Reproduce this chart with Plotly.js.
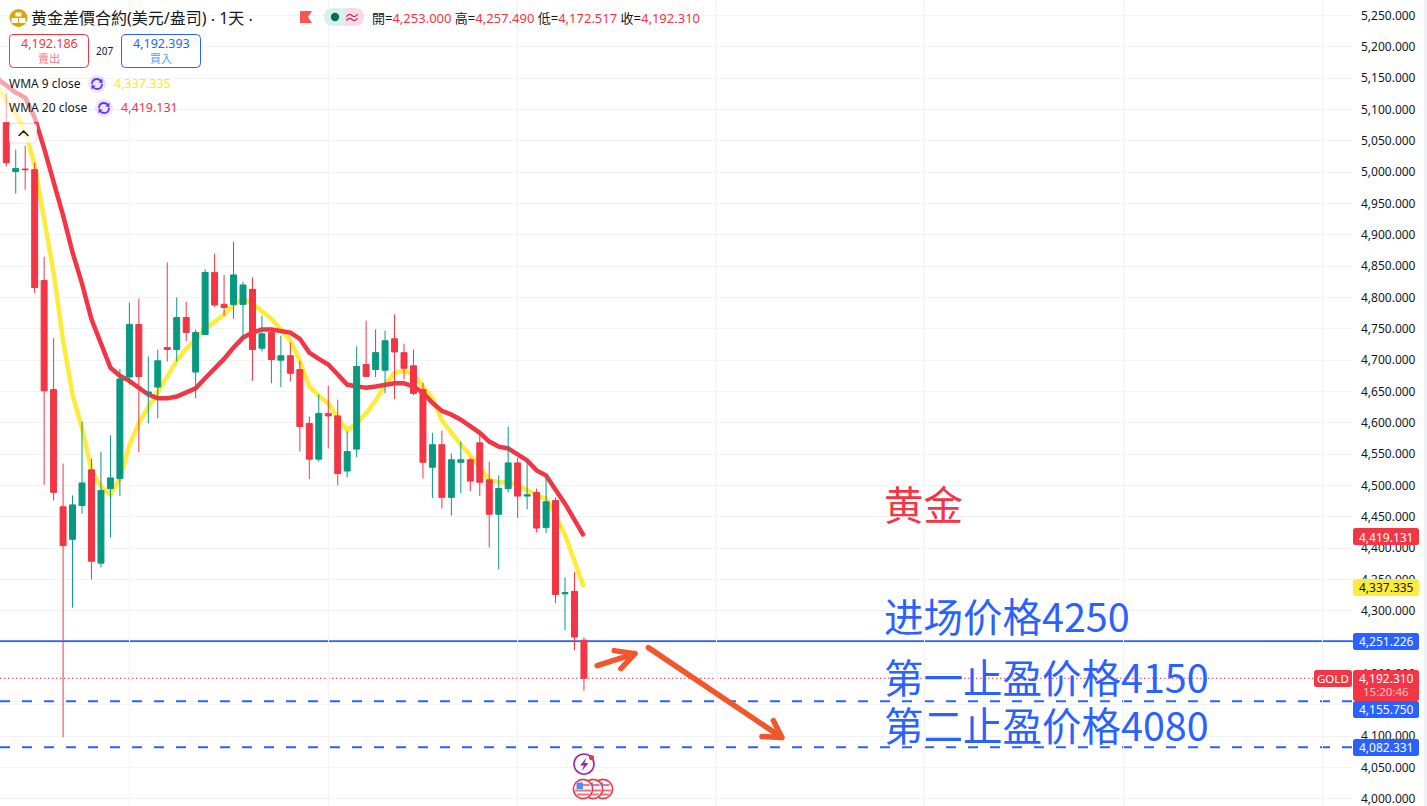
<!DOCTYPE html>
<html>
<head>
<meta charset="utf-8">
<script src="https://cdn.plot.ly/plotly-3.0.1.min.js"></script>
<style>
html,body{margin:0;padding:0;width:1427px;height:806px;overflow:hidden;background:#eef0f3;}
#chart{width:1424px;height:806px;background:#fff;}
</style>
</head>
<body>
<div id="chart"></div>
<script>
const opens=[5079,5001,5005,5004,4827,4653,4466,4414,4468,4525,4376,4495,4511,4673,4757,4647,4657,4720,4717,4768,4681,4741,4840,4789,4789,4789,4813,4719,4744,4700,4707,4685,4599,4542,4615,4611,4523,4558,4693,4685,4684,4734,4712,4691,4653,4529,4565,4481,4537,4541,4568,4509,4454,4495,4536,4483,4489,4433,4476,4327,4331,4253.000];
const highs=[5127,5036,5042,5015,4865,4735,4535,4484,4602,4543,4554,4580,4686,4792,4798,4706,4717,4856,4800,4793,4749,4845,4870,4836,4889,4825,4832,4771,4752,4739,4728,4699,4610,4645,4659,4637,4586,4722,4763,4749,4747,4773,4726,4717,4664,4584,4588,4551,4570,4544,4580,4538,4516,4594,4544,4540,4495,4514,4481,4353,4362,4257.490];
const lows=[5009,4966,4972,4807,4501,4476,4098,4305,4455,4350,4369,4417,4483,4661,4553,4599,4607,4698,4698,4730,4639,4741,4785,4771,4766,4736,4667,4714,4663,4657,4666,4554,4510,4538,4559,4500,4513,4545,4673,4673,4647,4638,4669,4644,4511,4480,4463,4452,4488,4491,4483,4401,4366,4489,4448,4462,4425,4424,4312,4269,4237,4172.517];
const closes=[5015,5006,5004,4816,4651,4489,4404,4469,4504,4379,4492,4512,4670,4757,4674,4649,4699,4717,4768,4744,4744,4840,4788,4784,4836,4820,4717,4742,4701,4707,4679,4594,4542,4615,4611,4519,4554,4690,4674,4712,4731,4713,4687,4647,4537,4565,4481,4541,4541,4507,4505,4454,4495,4536,4483,4485,4432,4474,4326,4329,4258,4192.310];
// the indicator lines start one session before the first visible candle
const wma9=[5138,5114,5094,5066,5011,4926,4840,4731,4645,4592,4524,4498,4485,4511,4564,4600,4624,4647,4674,4699,4718,4733,4750,4761,4773,4789,4798,4790,4779,4766,4749,4731,4699,4658,4643,4631,4608,4588,4599,4615,4635,4661,4680,4683,4677,4659,4639,4604,4583,4565,4548,4529,4509,4505,4505,4501,4493,4484,4479,4452,4421,4380,4337.335];
const wma20=[5150,5138,5127,5119,5087,5038,4987,4931,4872,4822,4765,4728,4688,4675,4667,4656,4645,4639,4639,4642,4648,4655,4671,4686,4702,4720,4736,4744,4749,4749,4747,4744,4734,4712,4702,4693,4677,4661,4658,4656,4658,4661,4663,4663,4658,4648,4632,4619,4613,4605,4594,4584,4570,4562,4559,4549,4540,4524,4516,4493,4471,4445,4419.131];
const candleIndex=opens.map((_,i)=>i);
const lineIndex=wma9.map((_,i)=>i-1);
const verticalGridCandles=[13,34,54,75,97,118,139];
const entryLevel=4251.226, target1Level=4155.750, target2Level=4082.331, lastLevel=4192.310;
const priceRange=[3988.4,5274.8];
const candleRange=[-0.66,142.1];

const RED='#f23645',GREEN='#089981',BLUE='#2962ff',YELLOW='#ffeb3b',INK='#131722',ORANGE='#f2572b';
const FONT='"Noto Sans","Noto Sans CJK TC",sans-serif';
const W=1352,H=806;
const px=x=>x/W, py=y=>1-y/H;
const P=(x,y)=>px(x)+','+py(y);

const shapes=[];
function pathShape(d,opt){shapes.push(Object.assign({type:'path',xref:'paper',yref:'paper',path:d,line:{width:0}},opt));}
function rrect(x0,y0,x1,y1,r,fill,stroke,lw,opacity){
  const d='M'+P(x0+r,y0)+' L'+P(x1-r,y0)+' Q'+P(x1,y0)+' '+P(x1,y0+r)+' L'+P(x1,y1-r)+' Q'+P(x1,y1)+' '+P(x1-r,y1)+' L'+P(x0+r,y1)+' Q'+P(x0,y1)+' '+P(x0,y1-r)+' L'+P(x0,y0+r)+' Q'+P(x0,y0)+' '+P(x0+r,y0)+' Z';
  pathShape(d,{fillcolor:fill,line:{color:stroke||fill,width:stroke?(lw||1):0},opacity:opacity==null?1:opacity});
}
function circ(cx,cy,r,fill,stroke,lw){
  shapes.push({type:'circle',xref:'paper',yref:'paper',x0:px(cx-r),x1:px(cx+r),y0:py(cy+r),y1:py(cy-r),fillcolor:fill,line:{color:stroke||fill,width:stroke?(lw||1):0}});
}
function hline(level,dash,color,width){
  shapes.push({type:'line',layer:'below',xref:'paper',yref:'y',x0:0,x1:1,y0:level,y1:level,line:{color:color,width:width,dash:dash}});
}
hline(entryLevel,'solid',BLUE,2.2);
hline(target1Level,'10px,12px',BLUE,2);
hline(target2Level,'10px,12px',BLUE,2);
hline(lastLevel,'1.5px,2.5px',RED,1.2);

// hand-drawn arrows
shapes.push({type:'path',xref:'x',yref:'y',path:'M62.4,4212.5 L66.4,4231.6 M64.2,4236.4 L66.4,4231.6 L64.9,4207.7',line:{color:ORANGE,width:5.5}});
shapes.push({type:'path',xref:'x',yref:'y',path:'M67.8,4241.2 L81.9,4097.6 M79.8,4099.2 L81.9,4097.6 L81.0,4124.7',line:{color:ORANGE,width:5.5}});

// veil of the legend over the lines
rrect(0,76,40,122,0,'rgba(255,255,255,0.55)');
rrect(9.5,123.5,36.5,143,3,'rgba(255,255,255,0.75)','#e0e3eb',1);
pathShape('M'+P(19,135.5)+' L'+P(23.5,131)+' L'+P(28,135.5),{line:{color:INK,width:1.5}});

// gold icon
circ(18.5,18,9,'#dca406');
rrect(15.5,12.5,21.5,16.5,0.5,'#ffffff');
rrect(11.5,18,18,23,0.5,'#ffffff');
rrect(19,18,25.5,23,0.5,'#ffffff');
// flag
pathShape('M'+P(300,11)+' L'+P(312,11)+' L'+P(308,17)+' L'+P(312,23)+' L'+P(300,23)+' Z',{fillcolor:'#ff5252'});
// status pill
rrect(324,8,352,26,9,'#d9f0ec');
rrect(345,8,364,26,9,'#fbd9e6');
rrect(345,8,352,26,0,'#fbd9e6');
circ(335,17,4.2,'#0b6b5a');
// bid / ask boxes
rrect(9.5,34.5,88.5,67.5,4,'#ffffff',RED,1);
rrect(121.5,34.5,200.5,67.5,4,'#ffffff',BLUE,1);
// indicator refresh icons
function refresh(cx,cy){
  circ(cx,cy,9,'#ebe7f6');
  const c='#6a35f0';
  pathShape('M'+P(cx-5,cy-0.5)+' Q'+P(cx-4.5,cy-5)+' '+P(cx,cy-5)+' Q'+P(cx+2.5,cy-5)+' '+P(cx+4,cy-3),{line:{color:c,width:1.8}});
  pathShape('M'+P(cx+5,cy+0.5)+' Q'+P(cx+4.5,cy+5)+' '+P(cx,cy+5)+' Q'+P(cx-2.5,cy+5)+' '+P(cx-4,cy+3),{line:{color:c,width:1.8}});
  pathShape('M'+P(cx+5.5,cy-5.5)+' L'+P(cx+5.5,cy-1)+' L'+P(cx+1.5,cy-1.5)+' Z',{fillcolor:c});
  pathShape('M'+P(cx-5.5,cy+5.5)+' L'+P(cx-5.5,cy+1)+' L'+P(cx-1.5,cy+1.5)+' Z',{fillcolor:c});
}
refresh(97,84);
refresh(104,108);

// event icons under the last candle
circ(584,764,10,'#ffffff','#9c27b0',1.6);
pathShape('M'+P(586.5,757.5)+' L'+P(580,765.5)+' L'+P(583.8,765.5)+' L'+P(582,771)+' L'+P(588.5,763)+' L'+P(584.5,763)+' Z',{fillcolor:'#9c27b0'});
circ(591.5,757.5,2.6,RED);
[603,593,583].forEach(cx=>{
  circ(cx,789,9.6,'#ffffff',RED,1.6);
  rrect(cx-6.5,782.5,cx,789,0,'#4e8ff5');
  rrect(cx,784,cx+6.5,786,0,'#f4737f');
  rrect(cx-8,789.5,cx+8,791.5,0,'#f4737f');
  rrect(cx-6,793.5,cx+6,795.5,0,'#f4737f');
});

// axis price tags
const tagBoxes=[[528,545,RED],[579,596,YELLOW],[633,650,BLUE],[701,718,BLUE],[739,756,BLUE],[670,701,RED]];
tagBoxes.forEach(b=>rrect(1353,b[0],1419,b[1],2.5,b[2]));
rrect(1314,670,1352,687,2.5,RED);

const notes=[];
function note(text,x,y,size,color,opt){
  notes.push(Object.assign({xref:'paper',yref:'paper',x:px(x),y:py(y),xanchor:'left',yanchor:'middle',showarrow:false,text:text,font:{family:FONT,size:size,color:color},borderpad:0,borderwidth:0},opt||{}));
}
note('黄金差價合約(美元/盎司) ‧ 1天 ‧',31,18,16,INK);
note('≈',352,16.5,16,'#a81b5c',{xanchor:'center'});
const v=t=>'<span style="color:'+RED+'">'+t+'</span>';
note('開='+v('4,253.000')+' 高='+v('4,257.490')+' 低='+v('4,172.517')+' 收='+v('4,192.310'),372,18,13,INK);
note('4,192.186',49,44,12.5,RED,{xanchor:'center'});
note('賣出',49,58,11,'#f77c80',{xanchor:'center'});
note('4,192.393',161,44,12.5,BLUE,{xanchor:'center'});
note('買入',161,58,11,'#5b9cf6',{xanchor:'center'});
note('207',105,51,10,INK,{xanchor:'center'});
note('WMA 9 close',9,84,12,INK);
note('4,337.335',114,84,12.5,'#ffe81f');
note('WMA 20 close',9,108,12,INK);
note('4,419.131',121,108,12.5,RED);
note('4,419.131',1386,537,12,'#ffffff',{xanchor:'center'});
note('4,337.335',1386,587.5,12,INK,{xanchor:'center'});
note('4,251.226',1386,641.5,12,'#ffffff',{xanchor:'center'});
note('4,192.310',1386,678,12,'#ffffff',{xanchor:'center'});
note('15:20:46',1386,691,11.5,'#fbc6cb',{xanchor:'center'});
note('4,155.750',1386,709,12,'#ffffff',{xanchor:'center'});
note('4,082.331',1386,747.5,12,'#ffffff',{xanchor:'center'});
note('GOLD',1333,678.5,11.5,'#ffffff',{xanchor:'center'});
const BIG='"Noto Sans CJK SC","Noto Sans",sans-serif';
note('黄金',884,502,39.5,RED,{font:{family:BIG,size:39.5,color:RED}});
note('进场价格4250',884,614,39.5,BLUE,{font:{family:BIG,size:39.5,color:BLUE}});
note('第一止盈价格4150',884,675,39.5,BLUE,{font:{family:BIG,size:39.5,color:BLUE}});
note('第二止盈价格4080',884,723,39.5,BLUE,{font:{family:BIG,size:39.5,color:BLUE}});

const traces=[
 {type:'scatter',mode:'lines',name:'WMA 9',x:lineIndex,y:wma9,line:{color:YELLOW,width:4.5},xaxis:'x',yaxis:'y',hoverinfo:'skip'},
 {type:'scatter',mode:'lines',name:'WMA 20',x:lineIndex,y:wma20,line:{color:RED,width:4.5},xaxis:'x',yaxis:'y',hoverinfo:'skip'},
 {type:'candlestick',x:candleIndex,open:opens,high:highs,low:lows,close:closes,xaxis:'x2',yaxis:'y2',whiskerwidth:0,
  increasing:{line:{color:GREEN,width:1},fillcolor:GREEN},decreasing:{line:{color:RED,width:1},fillcolor:RED},hoverinfo:'skip'}
];
const layout={
 width:1424,height:806,autosize:false,showlegend:false,
 margin:{l:0,r:72,t:0,b:0,pad:0},
 paper_bgcolor:'#ffffff',plot_bgcolor:'#ffffff',
 boxgap:0.37,boxgroupgap:0,
 xaxis:{range:candleRange,tickmode:'array',tickvals:verticalGridCandles,showticklabels:false,ticks:'',showgrid:true,gridcolor:'#f2f3f5',gridwidth:1,zeroline:false,showline:false},
 yaxis:{range:priceRange,side:'right',dtick:50,tick0:0,tickformat:',.3f',ticks:'',ticklabelstandoff:8,ticklabeloverflow:'allow',showgrid:true,gridcolor:'#f2f3f5',gridwidth:1,zeroline:false,showline:false,tickfont:{family:FONT,size:12,color:INK},automargin:false},
 xaxis2:{range:candleRange,overlaying:'x',visible:false,rangeslider:{visible:false}},
 yaxis2:{range:priceRange,overlaying:'y',visible:false,side:'right'},
 shapes:shapes,annotations:notes
};
Plotly.newPlot('chart',traces,layout,{displayModeBar:false,staticPlot:true}).then(()=>{
  document.querySelectorAll('.shapelayer path').forEach(p=>{p.style.strokeLinejoin='round';
    if(!p.style.strokeDasharray||p.style.strokeDasharray==='none'){p.style.strokeLinecap='round';}
  });
});
</script>
</body>
</html>
